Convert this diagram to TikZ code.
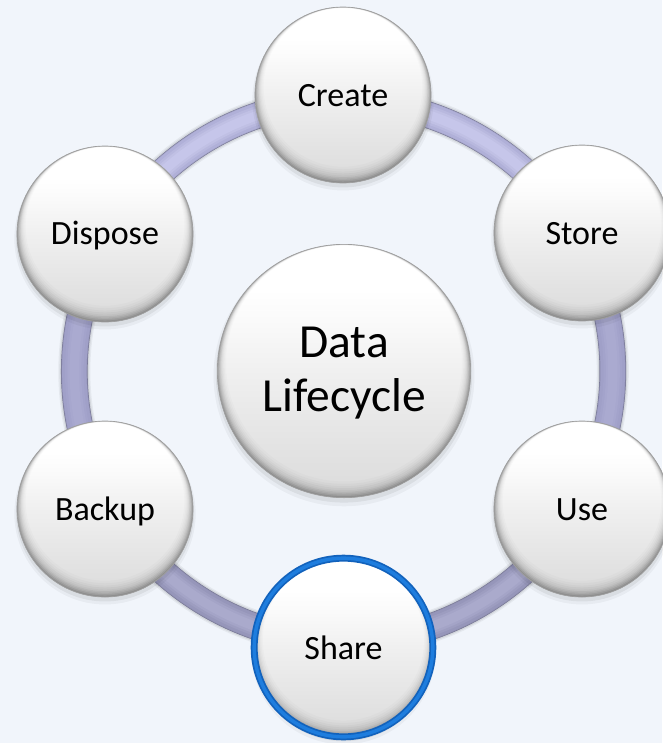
\documentclass[tikz,border=0pt]{standalone}
\usepackage{fontspec}
\setmainfont{Carlito}
\usetikzlibrary{calc,shadows,backgrounds}
\definecolor{pagebg}{RGB}{241,245,251}
\definecolor{rimline}{RGB}{158,158,158}
\definecolor{sharering}{RGB}{18,98,188}
\definecolor{sharecore}{RGB}{30,125,222}
\definecolor{ringedge}{RGB}{118,118,146}
\definecolor{ringtop}{RGB}{176,176,216}
\definecolor{ringtophi}{RGB}{198,198,234}
\definecolor{ringmid}{RGB}{160,160,200}
\definecolor{ringmidhi}{RGB}{170,170,208}
\definecolor{ringlow}{RGB}{150,150,186}
\definecolor{ringlowhi}{RGB}{170,170,204}
\pgfdeclareverticalshading{ballshade}{100bp}{
  color(0bp)=(white!83!black);
  color(22bp)=(white!85!black);
  color(35bp)=(white!89!black);
  color(50bp)=(white!94!black);
  color(60bp)=(white!98!black);
  color(66bp)=(white);
  color(100bp)=(white)}
\newcommand{\lowertext}[2]{\raisebox{-#1pt}[\height][\depth]{#2}}
\tikzset{
  ball/.style={circle,inner sep=0pt,outer sep=0pt,align=center,text=black,
    minimum size=2*#1 pt,
    shading=ballshade,
    general shadow={fill=black,opacity=.04,shadow yshift=-3.5pt,shadow scale=1.03},
    general shadow={fill=black,opacity=.06,shadow yshift=-2.5pt,shadow scale=1.012},
    path picture={
      \coordinate (ballc) at (path picture bounding box.center);
      \foreach \d/\s/\o in {.6/.5/.09,1.2/1/.07,1.8/1.5/.06,2.4/2/.05,3/2.6/.04,3.8/3.3/.03,4.6/4/.025,5.5/4.8/.02,6.5/5.7/.015}{
        \fill[black,opacity=\o,even odd rule]
          (ballc) circle[radius=#1 pt+1pt]
          ([yshift=\s pt]ballc) circle[radius=#1 pt-\d pt];
      }
    }},
  stepball/.style={ball=66,draw=rimline,line width=.5pt,font=\fontsize{25.5}{30}\selectfont},
  hubball/.style={ball=95,draw=rimline,line width=.5pt,font=\fontsize{35.6}{41}\selectfont},
  shareball/.style={ball=67,draw=sharering,line width=5.2pt,font=\fontsize{25.5}{30}\selectfont,
    postaction={draw=sharecore,line width=2.6pt}},
  seg/.style={looseness=.9123,bend left=30,line cap=butt}
}
\newcommand{\ringseg}[4]{%
  \draw[seg,black,opacity=.05,line width=24pt,yshift=-2.5pt] (#1) to (#2);
  \draw[seg,black,opacity=.07,line width=22pt,yshift=-1.5pt] (#1) to (#2);
  \draw[seg,ringedge,line width=20pt] (#1) to (#2);
  \draw[seg,#3!70!ringedge,line width=19.2pt] (#1) to (#2);
  \draw[seg,#3,line width=18.2pt] (#1) to (#2);
  \draw[seg,#4!35!#3,line width=14pt,yshift=1.2pt] (#1) to (#2);
  \draw[seg,#4!70!#3,line width=10.5pt,yshift=1.8pt] (#1) to (#2);
  \draw[seg,#4,line width=7pt,yshift=2.2pt] (#1) to (#2);
}
\begin{document}
\begin{tikzpicture}[x=.75pt,y=-.75pt]
\useasboundingbox (0,0) rectangle (662,743);
\node[hubball] (hub) at (344,371) {\lowertext{1.5}{Data}\\\lowertext{1.5}{Lifecycle}};
\node[stepball] (create) at (343,95) {\lowertext{.75}{Create}};
\node[stepball] (store) at (582,233) {\lowertext{.75}{Store}};
\node[stepball] (use) at (582,509) {\lowertext{.75}{Use}};
\node[shareball] (share) at (343.5,647.5) {Share};
\node[stepball] (backup) at (105,509) {\lowertext{1.5}{Backup}};
\node[stepball] (dispose) at (105,234) {\lowertext{1.5}{Dispose}};
\begin{pgfonlayer}{background}
\fill[pagebg] (0,0) rectangle (662,743);
\coordinate (acreate) at ($(create)!4.5pt!(hub)$);
\coordinate (astore) at ($(store)!4.5pt!(hub)$);
\coordinate (ause) at ($(use)!4.5pt!(hub)$);
\coordinate (ashare) at ($(share)!4.5pt!(hub)$);
\coordinate (abackup) at ($(backup)!4.5pt!(hub)$);
\coordinate (adispose) at ($(dispose)!4.5pt!(hub)$);
\ringseg{acreate}{astore}{ringtop}{ringtophi}
\ringseg{astore}{ause}{ringmid}{ringmidhi}
\ringseg{ause}{ashare}{ringlow}{ringlowhi}
\ringseg{ashare}{abackup}{ringlow}{ringlowhi}
\ringseg{abackup}{adispose}{ringmid}{ringmidhi}
\ringseg{adispose}{acreate}{ringtop}{ringtophi}
\end{pgfonlayer}
\end{tikzpicture}
\end{document}
